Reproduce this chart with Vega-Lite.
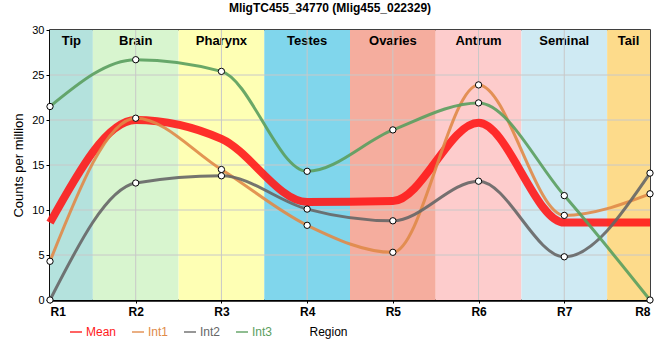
{
  "$schema": "https://vega.github.io/schema/vega-lite/v6.json",
  "autosize": "none",
  "width": 600,
  "height": 270,
  "padding": {"left": 50, "top": 30, "right": 10, "bottom": 60},
  "background": "white",
  "config": {
    "font": "Liberation Sans",
    "view": {"stroke": "black", "strokeWidth": 1.5}
  },
  "title": {
    "text": "MligTC455_34770 (Mlig455_022329)",
    "fontSize": 12,
    "fontWeight": "bold",
    "font": "Liberation Sans",
    "anchor": "middle",
    "dx": -20,
    "offset": 9,
    "color": "black"
  },
  "datasets": {
    "bands": [
      {"name": "Tip", "x0": 1, "x1": 1.5, "mid": 1.25},
      {"name": "Brain", "x0": 1.5, "x1": 2.5, "mid": 2},
      {"name": "Pharynx", "x0": 2.5, "x1": 3.5, "mid": 3},
      {"name": "Testes", "x0": 3.5, "x1": 4.5, "mid": 4},
      {"name": "Ovaries", "x0": 4.5, "x1": 5.5, "mid": 5},
      {"name": "Antrum", "x0": 5.5, "x1": 6.5, "mid": 6},
      {"name": "Seminal", "x0": 6.5, "x1": 7.5, "mid": 7},
      {"name": "Tail", "x0": 7.5, "x1": 8, "mid": 7.75}
    ],
    "gridx": [{"g": 2}, {"g": 3}, {"g": 4}, {"g": 5}, {"g": 6}, {"g": 7}],
    "gridy": [{"g": 5}, {"g": 10}, {"g": 15}, {"g": 20}, {"g": 25}],
    "series": [
      {"r": 1, "series": "Mean", "v": 8.6},
      {"r": 2, "series": "Mean", "v": 20.0},
      {"r": 3, "series": "Mean", "v": 17.9},
      {"r": 4, "series": "Mean", "v": 10.9},
      {"r": 5, "series": "Mean", "v": 11.0},
      {"r": 6, "series": "Mean", "v": 19.7},
      {"r": 7, "series": "Mean", "v": 8.6},
      {"r": 8, "series": "Mean", "v": 8.6},
      {"r": 1, "series": "Int1", "v": 4.3},
      {"r": 2, "series": "Int1", "v": 20.2},
      {"r": 3, "series": "Int1", "v": 14.5},
      {"r": 4, "series": "Int1", "v": 8.3},
      {"r": 5, "series": "Int1", "v": 5.3},
      {"r": 6, "series": "Int1", "v": 23.9},
      {"r": 7, "series": "Int1", "v": 9.4},
      {"r": 8, "series": "Int1", "v": 11.8},
      {"r": 1, "series": "Int2", "v": 0},
      {"r": 2, "series": "Int2", "v": 13.0},
      {"r": 3, "series": "Int2", "v": 13.8},
      {"r": 4, "series": "Int2", "v": 10.1},
      {"r": 5, "series": "Int2", "v": 8.8},
      {"r": 6, "series": "Int2", "v": 13.2},
      {"r": 7, "series": "Int2", "v": 4.8},
      {"r": 8, "series": "Int2", "v": 14.1},
      {"r": 1, "series": "Int3", "v": 21.5},
      {"r": 2, "series": "Int3", "v": 26.7},
      {"r": 3, "series": "Int3", "v": 25.4},
      {"r": 4, "series": "Int3", "v": 14.3},
      {"r": 5, "series": "Int3", "v": 18.9},
      {"r": 6, "series": "Int3", "v": 21.9},
      {"r": 7, "series": "Int3", "v": 11.6},
      {"r": 8, "series": "Int3", "v": 0}
    ]
  },
  "layer": [
    {
      "data": {"name": "bands"},
      "mark": {"type": "rect"},
      "encoding": {
        "x": {"field": "x0", "type": "quantitative", "scale": {"domain": [1, 8], "nice": false, "zero": false},
          "axis": {"values": [1, 2, 3, 4, 5, 6, 7, 8], "labelExpr": "'R' + datum.value", "grid": false,
            "labelFontWeight": "bold", "labelFontSize": 12, "labelColor": "black", "labelPadding": 3,
            "domainColor": "black", "domainWidth": 2.5, "tickColor": "black", "tickSize": 3,
            "title": "Region", "titleFontWeight": "normal", "titleFontSize": 12, "titleColor": "black",
            "titleX": 278, "titleY": 26, "titleAnchor": "middle"}},
        "x2": {"field": "x1"},
        "y": {"datum": 0, "type": "quantitative", "scale": {"domain": [0, 30], "nice": false},
          "axis": {"values": [0, 5, 10, 15, 20, 25, 30], "grid": false, "labelFontSize": 11, "labelColor": "black",
            "domainColor": "black", "domainWidth": 2.5, "tickColor": "black", "tickSize": 4, "labelPadding": 2,
            "title": "Counts per million", "titleFontWeight": "normal", "titleFontSize": 13, "titleColor": "black", "titlePadding": 6}},
        "y2": {"datum": 30},
        "fill": {"field": "name", "type": "nominal",
          "scale": {"domain": ["Tip", "Brain", "Pharynx", "Testes", "Ovaries", "Antrum", "Seminal", "Tail"],
            "range": ["#b4e2dd", "#d8f5cf", "#feffb4", "#80d6ec", "#f5ad9e", "#fdcccc", "#cfeaf3", "#fddb8b"]},
          "legend": null}
      }
    },
    {
      "data": {"name": "bands"},
      "mark": {"type": "text", "fontWeight": "bold", "fontSize": 13, "color": "black", "baseline": "middle"},
      "encoding": {
        "x": {"field": "mid", "type": "quantitative"},
        "y": {"datum": 28.8, "type": "quantitative"},
        "text": {"field": "name"}
      }
    },
    {
      "data": {"name": "gridx"},
      "mark": {"type": "rule", "color": "#c8c8c8", "strokeWidth": 1},
      "encoding": {"x": {"field": "g", "type": "quantitative"}}
    },
    {
      "data": {"name": "gridy"},
      "mark": {"type": "rule", "color": "#c8c8c8", "strokeWidth": 1},
      "encoding": {"y": {"field": "g", "type": "quantitative"}}
    },
    {
      "data": {"name": "series"},
      "transform": [{"filter": "datum.series == 'Mean'"}],
      "mark": {"type": "line", "interpolate": "monotone", "strokeWidth": 8, "opacity": 0.9},
      "encoding": {
        "x": {"field": "r", "type": "quantitative"},
        "y": {"field": "v", "type": "quantitative"},
        "color": {"field": "series", "type": "nominal",
          "scale": {"domain": ["Mean", "Int1", "Int2", "Int3"], "range": ["#ff1a1a", "#e08a48", "#666666", "#5a9e5e"]},
          "legend": {"orient": "none", "legendX": 19, "legendY": 295, "direction": "horizontal", "title": null,
            "symbolType": "stroke", "symbolSize": 144, "labelFontSize": 12, "columnPadding": 12, "symbolOffset": 0,
            "labelOffset": 3,
            "labelColor": {"expr": "scale('color', datum.value)"},
            "encode": {
              "symbols": {"update": {"strokeWidth": {"signal": "datum.value == 'Mean' ? 7 : 3"}}}
            }}}
      }
    },
    {
      "data": {"name": "series"},
      "transform": [{"filter": "datum.series != 'Mean'"}],
      "mark": {"type": "line", "interpolate": "monotone", "strokeWidth": 3, "opacity": 0.9},
      "encoding": {
        "x": {"field": "r", "type": "quantitative"},
        "y": {"field": "v", "type": "quantitative"},
        "color": {"field": "series", "type": "nominal"}
      }
    },
    {
      "data": {"name": "series"},
      "transform": [{"filter": "datum.series != 'Mean'"}],
      "mark": {"type": "point", "filled": true, "fill": "white", "stroke": "black", "strokeWidth": 1, "size": 40, "opacity": 1},
      "encoding": {
        "x": {"field": "r", "type": "quantitative"},
        "y": {"field": "v", "type": "quantitative"}
      }
    }
  ]
}
